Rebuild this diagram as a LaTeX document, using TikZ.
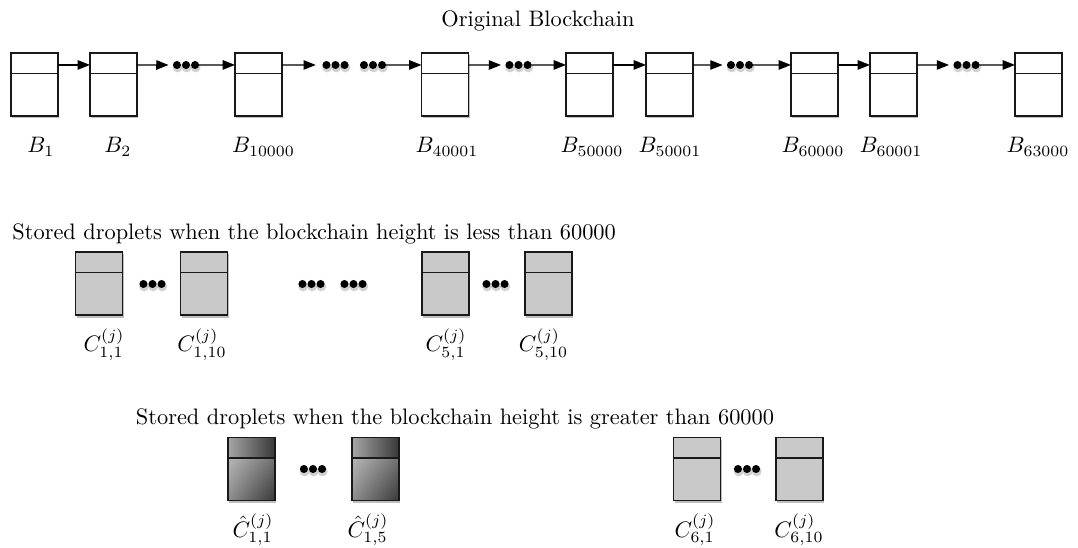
\documentclass[tikz,border=0pt]{standalone}
\usetikzlibrary{shadows,shadings,arrows.meta,calc}
\begin{document}
\begin{tikzpicture}[x=0.447pt,y=-0.447pt,
  blk/.style={draw=black!90, line width=0.7pt, minimum width=21pt, minimum height=28.2pt, inner sep=0pt, outer sep=0pt, fill=white,
     drop shadow={shadow xshift=0.5pt, shadow yshift=-1.1pt, opacity=0.25, fill=black}},
  gblk/.style={blk, fill=black!21},
  hblk/.style={blk, upper left=black!20, upper right=black!45, lower left=black!45, lower right=black!78},
  arr/.style={-{Triangle[length=5.5pt,width=4.2pt]}, line width=0.6pt},
  dotsn/.style={minimum width=11.6pt, minimum height=3.6pt, inner sep=0pt, outer sep=0pt},
  lab/.style={anchor=base, inner sep=0pt},
  ttl/.style={anchor=base, inner sep=0pt}
]
\useasboundingbox (0,0) rectangle (1078,548);
\newcommand{\divline}[1]{\draw[line width=0.7pt, black!90] ([yshift=-9.2pt]#1.north west) -- ([yshift=-9.2pt]#1.north east);}
\newcommand{\hattop}[1]{\shade[left color=black!35, right color=black!78] (#1.north west) rectangle ([yshift=-9.4pt]#1.north east);
  \draw[line width=0.7pt, black!90] (#1.north west) rectangle (#1.south east);}
\newcommand{\dotsof}[1]{\foreach \i in {-1,0,1} {\fill[black, opacity=0.18] ([xshift=\i*4.05pt+0.3pt, yshift=-1.1pt]#1.center) circle (2.2pt);}
  \foreach \i in {-1,0,1} {\fill[black] ([xshift=\i*4.05pt]#1.center) circle (1.8pt);}}

% title
\node[ttl] (t1) at (538,27) {Original Blockchain};

% top row
\node[blk] (b1) at (34.5,84.5) {};
\node[blk] (b2) at (113.5,84.5) {};
\node[dotsn] (d1) at (186,65) {};
\node[blk] (b3) at (258.5,84.5) {};
\node[dotsn] (d2) at (335.5,65) {};
\node[dotsn] (d3) at (373,65) {};
\node[blk] (b4) at (445,84.5) {};
\node[dotsn] (d4) at (518.5,65) {};
\node[blk] (b5) at (589.5,84.5) {};
\node[blk] (b6) at (669.5,84.5) {};
\node[dotsn] (d5) at (740,65) {};
\node[blk] (b7) at (814.5,84.5) {};
\node[blk] (b8) at (893.5,84.5) {};
\node[dotsn] (d6) at (966.5,65) {};
\node[blk] (b9) at (1038.5,84.5) {};
\foreach \n in {b1,b2,b3,b4,b5,b6,b7,b8,b9} {\divline{\n}}
\foreach \n in {d1,d2,d3,d4,d5,d6} {\dotsof{\n}}

\draw[arr] ([yshift=-5.36pt]b1.north east) -- ([yshift=-5.36pt]b2.north west);
\draw[arr, shorten >=2pt] ([yshift=-5.36pt]b2.north east) -- (d1.west);
\draw[arr] (d1.east) -- ([yshift=-5.36pt]b3.north west);
\draw[arr, shorten >=3pt] ([yshift=-5.36pt]b3.north east) -- (d2.west);
\draw[arr] (d3.east) -- ([yshift=-5.36pt]b4.north west);
\draw[arr, shorten >=2pt] ([yshift=-5.36pt]b4.north east) -- (d4.west);
\draw[arr] (d4.east) -- ([yshift=-5.36pt]b5.north west);
\draw[arr] ([yshift=-5.36pt]b5.north east) -- ([yshift=-5.36pt]b6.north west);
\draw[arr, shorten >=2pt] ([yshift=-5.36pt]b6.north east) -- (d5.west);
\draw[arr] (d5.east) -- ([yshift=-5.36pt]b7.north west);
\draw[arr] ([yshift=-5.36pt]b7.north east) -- ([yshift=-5.36pt]b8.north west);
\draw[arr, shorten >=2pt] ([yshift=-5.36pt]b8.north east) -- (d6.west);
\draw[arr] (d6.east) -- ([yshift=-5.36pt]b9.north west);

\node[lab] (lb1) at (41,153) {$B_1$};
\node[lab] (lb2) at (118,153) {$B_2$};
\node[lab] (lb3) at (263.5,153) {$B_{10000}$};
\node[lab] (lb4) at (447,153) {$B_{40001}$};
\node[lab] (lb5) at (592,153) {$B_{50000}$};
\node[lab] (lb6) at (670,153) {$B_{50001}$};
\node[lab] (lb7) at (813,153) {$B_{60000}$};
\node[lab] (lb8) at (891,153) {$B_{60001}$};
\node[lab] (lb9) at (1038,153) {$B_{63000}$};

% middle row
\node[ttl, anchor=base west] (t2) at (12,240) {Stored droplets when the blockchain height is less than 60000};
\node[gblk] (c1) at (99,283.5) {};
\node[dotsn] (e1) at (152.5,284) {};
\node[gblk] (c2) at (204,283.5) {};
\node[dotsn] (e2) at (311.5,284) {};
\node[dotsn] (e3) at (353.5,284) {};
\node[gblk] (c3) at (445.5,283.5) {};
\node[dotsn] (e4) at (495.5,284) {};
\node[gblk] (c4) at (548.5,283.5) {};
\foreach \n in {c1,c2,c3,c4} {\divline{\n}}
\foreach \n in {e1,e2,e3,e4} {\dotsof{\n}}
\node[lab] (lc1) at (104,352) {$C^{(j)}_{1,1}$};
\node[lab] (lc2) at (202,352) {$C^{(j)}_{1,10}$};
\node[lab] (lc3) at (446,352) {$C^{(j)}_{5,1}$};
\node[lab] (lc4) at (543.5,352) {$C^{(j)}_{5,10}$};

% bottom row
\node[ttl] (t3) at (455,425) {Stored droplets when the blockchain height is greater than 60000};
\node[hblk] (h1) at (251.5,469) {};
\node[dotsn] (f1) at (313,469) {};
\node[hblk] (h2) at (375.5,469) {};
\node[gblk] (c5) at (697,469) {};
\node[dotsn] (f2) at (747,469) {};
\node[gblk] (c6) at (799.5,469) {};
\hattop{h1}
\hattop{h2}
\foreach \n in {h1,h2,c5,c6} {\divline{\n}}
\foreach \n in {f1,f2} {\dotsof{\n}}
\node[lab] (lh1) at (253,537) {$\hat{C}^{(j)}_{1,1}$};
\node[lab] (lh2) at (368,537) {$\hat{C}^{(j)}_{1,5}$};
\node[lab] (lc5) at (695,537) {$C^{(j)}_{6,1}$};
\node[lab] (lc6) at (799,537) {$C^{(j)}_{6,10}$};
\end{tikzpicture}
\end{document}
